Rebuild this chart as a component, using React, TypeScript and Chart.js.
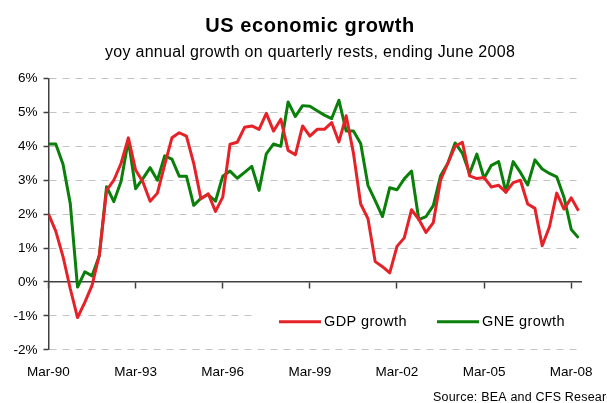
import React, { useEffect, useRef } from 'react';
import { Chart, registerables } from 'chart.js';

Chart.register(...registerables);

const FONT = 'Arial, "Liberation Sans", sans-serif';

const TITLE = 'US economic growth';
const SUBTITLE = 'yoy annual growth on quarterly rests, ending June 2008';
const SOURCE = 'Source: BEA and CFS Research';

const MONTHS = ['Mar', 'Jun', 'Sep', 'Dec'];
const YEARS = ['90', '91', '92', '93', '94', '95', '96', '97', '98', '99', '00', '01', '02', '03', '04', '05', '06', '07', '08'];
const quarters: string[] = YEARS.flatMap((y) => MONTHS.map((m) => `${m}-${y}`)).slice(0, 74);

const xTickLabels = ['Mar-90', 'Mar-93', 'Mar-96', 'Mar-99', 'Mar-02', 'Mar-05', 'Mar-08'];
const yTickValues = [-2, -1, 0, 1, 2, 3, 4, 5, 6];

const seriesNames = ['GDP growth', 'GNE growth'];
const seriesColors = ['#e62228', '#0a7f0a'];

// yoy % growth, quarterly, Mar-90 .. Jun-08
const gdpGrowth = [
  2.0, 1.5, 0.75, -0.2, -1.05, -0.6, -0.1, 0.8, 2.7, 3.0,
  3.5, 4.25, 3.3, 2.95, 2.38, 2.62, 3.45, 4.25, 4.4, 4.3,
  3.5, 2.45, 2.6, 2.08, 2.5, 4.06, 4.12, 4.56, 4.6, 4.5,
  4.97, 4.45, 4.8, 3.88, 3.75, 4.6, 4.3, 4.5, 4.5, 4.7,
  4.13, 4.9, 3.8, 2.3, 1.87, 0.6, 0.45, 0.27, 1.05, 1.3,
  2.13, 1.85, 1.46, 1.75, 3.0, 3.5, 4.0, 4.12, 3.13, 3.05,
  3.08, 2.8, 2.85, 2.65, 2.93, 3.0, 2.3, 2.17, 1.07, 1.63,
  2.62, 2.15, 2.48, 2.1,
];

const gneGrowth = [
  4.07, 4.07, 3.47, 2.31, -0.15, 0.3, 0.18, 0.77, 2.81, 2.37,
  2.97, 4.18, 2.75, 3.05, 3.37, 3.0, 3.72, 3.62, 3.12, 3.12,
  2.26, 2.47, 2.58, 2.38, 3.12, 3.27, 3.06, 3.23, 3.41, 2.7,
  3.78, 4.07, 4.0, 5.31, 4.88, 5.2, 5.18, 5.05, 4.92, 4.82,
  5.36, 4.45, 4.45, 4.08, 2.85, 2.4, 1.93, 2.78, 2.72, 3.04,
  3.27, 1.84, 1.93, 2.25, 3.13, 3.5, 4.1, 3.8, 3.2, 3.77,
  3.06, 3.44, 3.55, 2.65, 3.55, 3.23, 2.86, 3.6, 3.33, 3.2,
  3.1, 2.5, 1.55, 1.3,
];

const seriesValues = [gdpGrowth, gneGrowth];

export default function App() {
  const canvasRef = useRef<HTMLCanvasElement | null>(null);

  useEffect(() => {
    document.body.style.margin = '0';
    const canvas = canvasRef.current;
    if (!canvas) return;

    const xTickValues = xTickLabels.map((l) => quarters.indexOf(l));
    const xMax = quarters.length - 1 + 0.35;
    const setXTicks = (scale: any) => {
      scale.ticks = xTickValues.map((v) => ({ value: v }));
    };

    const overlay = {
      id: 'overlay',
      afterDraw(chart: any) {
        const ctx = chart.ctx as CanvasRenderingContext2D;
        ctx.save();
        ctx.fillStyle = '#000';
        ctx.textAlign = 'center';
        ctx.textBaseline = 'alphabetic';
        ctx.font = `bold 20px ${FONT}`;
        (ctx as any).letterSpacing = '0.6px';
        ctx.fillText(TITLE, 310, 31.5);
        ctx.font = `16px ${FONT}`;
        (ctx as any).letterSpacing = '0.3px';
        ctx.fillText(SUBTITLE, 310, 57);
        (ctx as any).letterSpacing = '0px';

        // legend (white box inside the plot area)
        ctx.fillStyle = '#ffffff';
        ctx.fillRect(255, 306, 322, 31);
        const legendX = [279, 437];
        const ly = 321.7;
        chart.data.datasets.forEach((ds: any, k: number) => {
          const x0 = legendX[k];
          ctx.strokeStyle = ds.borderColor;
          ctx.lineWidth = 3;
          ctx.beginPath();
          ctx.moveTo(x0, ly);
          ctx.lineTo(x0 + 42, ly);
          ctx.stroke();
          ctx.fillStyle = '#000';
          ctx.textAlign = 'left';
          ctx.textBaseline = 'middle';
          ctx.font = `14.5px ${FONT}`;
          (ctx as any).letterSpacing = '0.4px';
          ctx.fillText(ds.label, x0 + 45, ly + 0.5);
        });

        ctx.font = `12.5px ${FONT}`;
        (ctx as any).letterSpacing = '0.2px';
        ctx.textAlign = 'left';
        ctx.textBaseline = 'alphabetic';
        ctx.fillStyle = '#000';
        ctx.fillText(SOURCE, 433, 401);
        ctx.restore();
      },
    };

    const chart = new Chart(canvas, {
      type: 'line',
      data: {
        datasets: seriesValues.map((vals, k) => ({
          label: seriesNames[k],
          data: vals.map((v, i) => ({ x: i, y: v })),
          borderColor: seriesColors[k],
          backgroundColor: seriesColors[k],
          borderWidth: 3,
          pointRadius: 0,
          tension: 0,
          borderJoinStyle: 'round' as const,
          xAxisID: 'x',
          yAxisID: 'y',
        })),
      },
      options: {
        animation: false,
        responsive: false,
        maintainAspectRatio: false,
        layout: { padding: { top: 78.5, right: 20.3, bottom: 0, left: 0 } },
        plugins: {
          legend: { display: false },
          tooltip: { enabled: false },
          title: { display: false },
        },
        scales: {
          x: {
            type: 'linear',
            position: { y: 0 } as any,
            min: 0,
            max: xMax,
            afterBuildTicks: setXTicks,
            ticks: { display: false },
            grid: {
              drawOnChartArea: false,
              drawTicks: true,
              tickLength: 6,
              tickColor: '#404040',
              tickWidth: 1.5,
            },
            border: { display: true, color: '#404040', width: 1.5 },
          },
          x2: {
            type: 'linear',
            position: 'bottom',
            min: 0,
            max: xMax,
            afterBuildTicks: setXTicks,
            grid: { display: false, drawTicks: false },
            border: { display: false },
            ticks: {
              autoSkip: false,
              maxRotation: 0,
              padding: 14,
              color: '#000',
              font: { family: FONT, size: 13.5 },
              callback: (v: any) => quarters[Number(v)] ?? '',
            },
            afterFit: (s: any) => {
              s.height = 53.2;
            },
          },
          y: {
            type: 'linear',
            min: yTickValues[0],
            max: yTickValues[yTickValues.length - 1],
            ticks: {
              stepSize: 1,
              padding: 6,
              color: '#000',
              font: { family: FONT, size: 13.5 },
              callback: (v: any) => `${v}%`,
            },
            grid: {
              color: '#c4c4c4',
              lineWidth: 1,
              tickColor: '#404040',
              tickLength: 5,
              tickWidth: 1.5,
              tickBorderDash: [],
            },
            border: { display: true, color: '#404040', width: 1.5, dash: [7, 6] },
            afterFit: (s: any) => {
              s.width = 48.5;
            },
          },
        },
      },
      plugins: [overlay],
    });

    return () => {
      chart.destroy();
    };
  }, []);

  return (
    <div style={{ width: 607, height: 403, background: '#fff' }}>
      <canvas ref={canvasRef} width={607} height={403} style={{ display: 'block' }} />
    </div>
  );
}
